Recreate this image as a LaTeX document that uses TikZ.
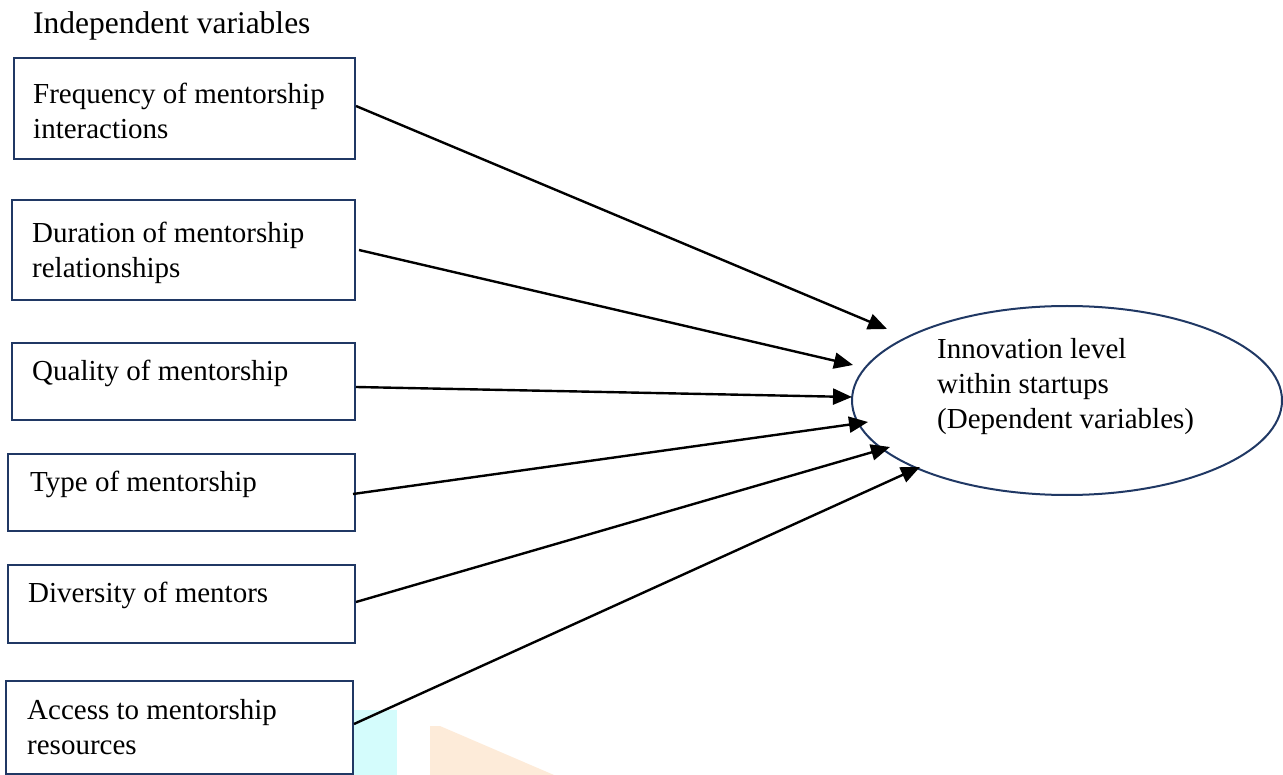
\documentclass[tikz,border=0pt]{standalone}
\usepackage{fontspec}
\setmainfont{Liberation Serif}
\usetikzlibrary{shapes.geometric,arrows.meta}
\definecolor{navy}{HTML}{203864}
\definecolor{patchcyan}{HTML}{D4FCFC}
\definecolor{patchorange}{HTML}{FDEBD9}
\begin{document}
\begin{tikzpicture}[x=1pt,y=-1pt,
  box/.style={draw=navy,line width=2pt,fill=white,inner sep=0pt,anchor=north west},
  lbl/.style={anchor=base west,inner sep=0pt,font=\fontsize{29}{35}\selectfont},
  arr/.style={line width=2.4pt,-{Triangle[length=19pt,width=16pt]}}]
\useasboundingbox (0,0) rectangle (1283,775);
% background patches
\fill[patchcyan] (352,710) rectangle (397,775);
\fill[patchorange] (430,726) -- (440,726) -- (554,775) -- (430,775) -- cycle;
% title
\node[lbl,font=\fontsize{31.5}{38}\selectfont] (title) at (33,34) {Independent variables};
% boxes
\node[box,minimum width=341pt,minimum height=101pt] (b1) at (13,57) {};
\node[box,minimum width=343pt,minimum height=100pt] (b2) at (11,199) {};
\node[box,minimum width=343pt,minimum height=77pt] (b3) at (11,342) {};
\node[box,minimum width=347pt,minimum height=77pt] (b4) at (7,453) {};
\node[box,minimum width=347pt,minimum height=78pt] (b5) at (7,564) {};
\node[box,minimum width=347pt,minimum height=93pt] (b6) at (5,680) {};
% box texts
\node[lbl] (t1) at (33,104) {\begin{tabular}[t]{@{}l@{}}Frequency of mentorship\\ interactions\end{tabular}};
\node[lbl] (t2) at (32,243) {\begin{tabular}[t]{@{}l@{}}Duration of mentorship\\ relationships\end{tabular}};
\node[lbl] (t3) at (32,381) {Quality of mentorship};
\node[lbl] (t4) at (30,491) {Type of mentorship};
\node[lbl] (t5) at (28,602) {Diversity of mentors};
\node[lbl] (t6) at (27,719) {\begin{tabular}[t]{@{}l@{}}Access to mentorship\\ resources\end{tabular}};
% ellipse
\node[draw=navy,line width=2pt,ellipse,minimum width=430pt,minimum height=189pt,inner sep=0pt] (e) at (1067,400.5) {};
\node[lbl] (te) at (937,359) {\begin{tabular}[t]{@{}l@{}}Innovation level\\ within startups\\ (Dependent variables)\end{tabular}};
% connectors
\draw[arr] ([yshift=2.5pt]b1.east) -- ([shift={(-180pt,71.5pt)}]e.center);
\draw[arr] ([xshift=3pt]b2.east) -- ([shift={(-214pt,35.5pt)}]e.center);
\draw[arr] ([yshift=-5.5pt]b3.east) -- ([shift={(-215pt,3.5pt)}]e.center);
\draw[arr] ([shift={(-3pt,-1.5pt)}]b4.east) -- ([shift={(-199pt,-21.5pt)}]e.center);
\draw[arr] ([yshift=2pt]b5.east) -- ([shift={(-177pt,-46.5pt)}]e.center);
\draw[arr] ([yshift=3.5pt]b6.east) -- ([shift={(-147pt,-66.5pt)}]e.center);
\end{tikzpicture}
\end{document}
